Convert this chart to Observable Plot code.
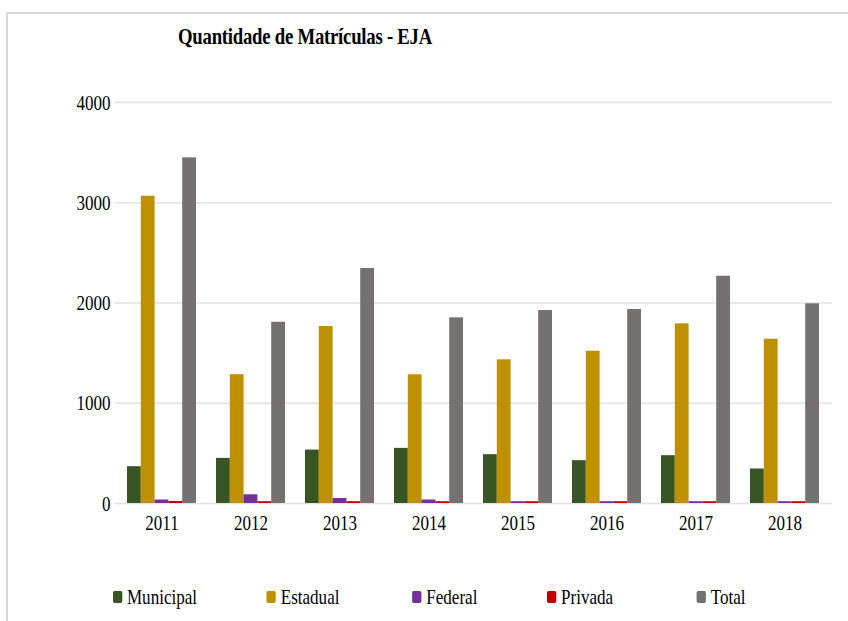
<!DOCTYPE html>
<html>
<head>
<meta charset="utf-8">
<script src="https://cdn.jsdelivr.net/npm/d3@7"></script>
<script src="https://cdn.jsdelivr.net/npm/@observablehq/plot@0.6"></script>
<style>
  html, body { margin: 0; padding: 0; background: #fff; }
  body { width: 848px; height: 621px; overflow: hidden; position: relative; font-family: "Liberation Serif", "Times New Roman", serif; color: #000; }
  #frame { position: absolute; left: 6px; top: 12px; width: 900px; height: 700px; border-left: 2px solid #d9d9d9; border-top: 2px solid #d9d9d9; }
  #title { position: absolute; left: 178px; top: 24px; font-weight: bold; font-size: 24px; line-height: 24px; white-space: nowrap; transform: scaleX(0.78); transform-origin: 0 0; letter-spacing: -0.3px; }
  .layer { position: absolute; left: 0; top: 0; }
  #legend { position: absolute; left: 113px; top: 586px; display: flex; align-items: center; gap: 90px; transform: scaleX(0.775); transform-origin: 0 0; white-space: nowrap; font-size: 22px; line-height: 22px; }
  .item { display: flex; align-items: center; gap: 6px; }
  .item:nth-child(3) { margin-left: 4px; }
  .item:nth-child(5) { margin-left: 18px; }
  .sw { width: 12px; height: 12px; border-radius: 2px; display: inline-block; }
</style>
</head>
<body>
<div id="frame"></div>
<div id="title">Quantidade de Matrículas - EJA</div>
<div id="bg" class="layer"></div>
<div id="fg" class="layer"></div>
<div id="legend"></div>
<script>
const years = ["2011", "2012", "2013", "2014", "2015", "2016", "2017", "2018"];
const seriesNames = ["Municipal", "Estadual", "Federal", "Privada", "Total"];
const seriesColors = ["#375623", "#bf9000", "#7030a0", "#c00000", "#767171"];
const municipal = [367, 450, 533, 550, 487, 427, 477, 344];
const estadual = [3065, 1285, 1766, 1284, 1433, 1519, 1792, 1639];
const federal = [35, 87, 50, 35, 18, 18, 18, 18];
const privada = [20, 18, 18, 18, 18, 18, 18, 18];
const total = [3448, 1808, 2344, 1852, 1925, 1935, 2267, 1992];
const yTicks = [0, 1000, 2000, 3000, 4000];

const seriesValues = [municipal, estadual, federal, privada, total];
const rows = years.flatMap((yr, i) => seriesNames.map((s, j) => ({year: yr, series: s, value: seriesValues[j][i]})));

const dims = {width: 848, height: 540, marginLeft: 115, marginRight: 16, marginTop: 102, marginBottom: 37};
const style = {fontFamily: "Liberation Serif, Times New Roman, serif", fontSize: "22px", color: "#000", background: "transparent", overflow: "visible"};

function squeeze(svg, k) {
  svg.querySelectorAll("text").forEach(t => {
    let x = parseFloat(t.getAttribute("x"));
    if (!isFinite(x)) x = 0;
    const tr = t.getAttribute("transform") || "";
    t.setAttribute("transform", `${tr} translate(${x},0) scale(${k},1) translate(${-x},0)`.trim());
  });
}

const bg = Plot.plot({
  ...dims, style,
  x: {axis: null},
  y: {domain: [0, 4000], ticks: yTicks, tickSize: 0, tickPadding: 5, label: null, tickFormat: "d"},
  marks: [
    Plot.ruleY(yTicks, {stroke: "#e2e2e2", strokeWidth: 1.5})
  ]
});
squeeze(bg, 0.775);
document.getElementById("bg").append(bg);

const fg = Plot.plot({
  ...dims, style,
  fx: {domain: years, paddingInner: 0.22, paddingOuter: 0.11, tickSize: 0, tickPadding: 11, label: null},
  x: {domain: seriesNames, padding: 0, round: false, axis: null},
  y: {domain: [0, 4000], axis: null},
  color: {domain: seriesNames, range: seriesColors},
  marks: [
    Plot.barY(rows, {fx: "year", x: "series", y: "value", fill: "series"})
  ]
});
squeeze(fg, 0.775);
document.getElementById("fg").append(fg);

const legend = document.getElementById("legend");
seriesNames.forEach((s, j) => {
  const it = document.createElement("div");
  it.className = "item";
  const sw = document.createElement("span");
  sw.className = "sw";
  sw.style.background = seriesColors[j];
  const lb = document.createElement("span");
  lb.textContent = s;
  it.append(sw, lb);
  legend.append(it);
});
</script>
</body>
</html>
